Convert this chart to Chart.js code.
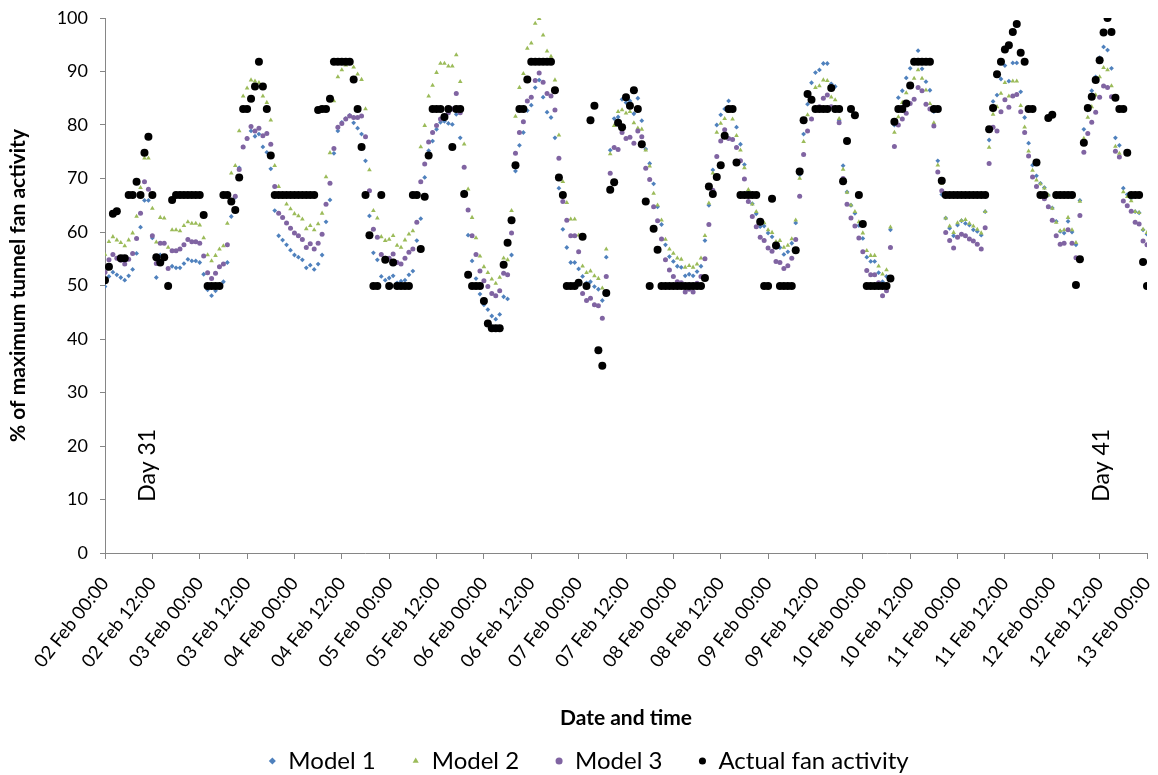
<!DOCTYPE html>
<html>
<head>
<meta charset="utf-8">
<title>Tunnel fan activity</title>
<script src="https://cdn.jsdelivr.net/npm/chart.js@4.4.0/dist/chart.umd.min.js"></script>
<style>
  html, body { margin: 0; padding: 0; background: #fff; }
  #chart { display: block; }
</style>
</head>
<body>
<canvas id="chart" width="1158" height="775"></canvas>
<script>
/* ── data: one value per hour, 02 Feb 00:00 → 13 Feb 00:00 ── */
const xTickLabels = [
  '02 Feb 00:00', '02 Feb 12:00', '03 Feb 00:00', '03 Feb 12:00', '04 Feb 00:00', '04 Feb 12:00',
  '05 Feb 00:00', '05 Feb 12:00', '06 Feb 00:00', '06 Feb 12:00', '07 Feb 00:00', '07 Feb 12:00',
  '08 Feb 00:00', '08 Feb 12:00', '09 Feb 00:00', '09 Feb 12:00', '10 Feb 00:00', '10 Feb 12:00',
  '11 Feb 00:00', '11 Feb 12:00', '12 Feb 00:00', '12 Feb 12:00', '13 Feb 00:00'
];

const model1 = [
  49.8, 51.7, 52.5, 52.0, 51.5, 51.0, 51.8, 53.0, 56.0, 60.9, 65.9, 65.9, 58.9, 51.5, 55.7, 55.5, 50.3, 53.6, 53.3, 53.3, 54.1, 54.9, 54.6, 54.6,
  54.3, 52.1, 49.2, 48.1, 49.0, 49.8, 50.7, 54.3, 62.9, 66.5, 72.0, 75.9, 77.5, 78.9, 77.9, 78.3, 75.9, 74.9, 71.8, 64.0, 59.3, 58.5, 57.6, 56.6,
  55.7, 55.3, 54.8, 53.3, 53.8, 53.0, 54.0, 55.7, 61.9, 66.0, 74.7, 78.9, 80.5, 81.2, 81.8, 80.4, 79.4, 78.3, 73.3, 63.0, 56.1, 54.8, 51.7, 51.0,
  51.4, 51.8, 50.5, 50.8, 51.0, 52.0, 52.7, 58.4, 62.5, 70.2, 75.2, 77.0, 79.2, 80.5, 80.7, 80.3, 80.1, 82.0, 77.6, 67.5, 59.4, 54.6, 51.3, 48.4,
  46.4, 45.5, 44.3, 43.7, 44.6, 47.9, 47.5, 55.7, 71.4, 76.2, 78.6, 82.7, 83.7, 87.0, 88.4, 85.2, 82.4, 81.4, 77.6, 68.2, 60.5, 57.1, 54.3, 54.3,
  53.1, 51.7, 50.5, 50.7, 49.8, 49.3, 47.2, 55.3, 75.3, 81.2, 81.5, 84.8, 84.2, 84.5, 82.1, 85.0, 80.8, 75.5, 72.8, 69.0, 64.7, 61.4, 57.6, 55.4,
  54.5, 53.6, 53.4, 51.8, 52.1, 51.8, 52.6, 53.6, 58.4, 65.0, 71.6, 80.0, 81.9, 83.0, 84.5, 82.8, 79.6, 76.4, 72.6, 67.6, 65.3, 63.4, 61.0, 61.1,
  59.8, 59.1, 57.1, 57.1, 55.8, 56.3, 57.9, 61.7, 70.7, 78.3, 83.9, 87.9, 89.8, 90.3, 91.5, 91.5, 87.7, 87.2, 80.9, 72.4, 67.5, 65.0, 63.5, 61.2,
  58.8, 55.3, 54.5, 54.5, 52.4, 50.7, 51.7, 60.4, 80.0, 85.1, 86.4, 88.8, 90.6, 92.0, 93.9, 90.5, 88.1, 86.5, 82.5, 73.3, 67.0, 62.6, 60.7, 59.3,
  61.3, 62.1, 61.6, 61.3, 60.4, 60.1, 59.4, 63.8, 77.2, 84.4, 85.6, 88.6, 91.1, 88.2, 91.6, 91.6, 86.2, 81.4, 76.6, 72.5, 70.5, 69.1, 68.3, 66.9,
  64.5, 62.0, 60.1, 59.8, 62.0, 60.0, 57.6, 65.9, 79.2, 82.8, 86.4, 89.0, 92.6, 94.6, 94.0, 90.6, 77.6, 76.2, 68.2, 67.0, 66.3, 63.8, 63.6, 60.4,
  59.6
];

const model2 = [
  55.8, 58.2, 59.1, 58.5, 58.0, 57.4, 58.5, 59.8, 62.9, 68.3, 73.8, 73.8, 64.4, 58.1, 62.7, 62.6, 57.1, 60.4, 60.4, 60.2, 61.2, 61.9, 61.6, 61.6,
  61.3, 58.9, 55.7, 54.6, 55.6, 56.8, 57.4, 61.6, 71.0, 72.4, 78.9, 85.4, 86.9, 88.4, 88.2, 87.9, 85.4, 84.2, 80.9, 72.4, 68.5, 66.5, 65.2, 64.3,
  63.4, 63.0, 62.4, 60.6, 61.2, 60.4, 61.5, 63.5, 70.3, 74.8, 84.5, 89.0, 90.3, 91.2, 91.7, 90.8, 89.5, 88.5, 83.0, 71.6, 64.0, 62.6, 59.1, 58.4,
  58.6, 59.3, 57.5, 57.1, 58.5, 59.6, 60.2, 66.5, 75.9, 79.9, 85.4, 87.4, 89.8, 91.5, 91.5, 91.0, 91.0, 93.1, 88.1, 76.4, 68.0, 62.7, 58.9, 55.5,
  53.5, 52.4, 51.2, 50.4, 51.5, 55.1, 54.8, 64.0, 81.6, 87.0, 89.6, 94.3, 95.3, 99.0, 99.9, 96.8, 93.8, 92.8, 88.4, 78.1, 69.4, 65.5, 62.4, 62.4,
  59.4, 53.6, 52.4, 52.7, 51.8, 51.3, 49.5, 56.8, 74.6, 79.9, 82.5, 82.8, 82.2, 82.5, 80.4, 79.4, 79.2, 75.3, 72.3, 67.2, 65.0, 62.2, 58.6, 56.8,
  56.0, 55.1, 54.9, 53.4, 53.7, 53.4, 54.0, 55.1, 59.3, 65.4, 71.0, 78.6, 80.3, 81.2, 82.5, 81.1, 78.0, 75.3, 72.0, 67.9, 65.2, 63.8, 61.6, 61.7,
  60.4, 59.9, 58.2, 58.4, 57.1, 57.5, 58.7, 62.2, 70.0, 76.9, 81.9, 84.4, 87.0, 87.3, 88.4, 88.3, 85.2, 84.7, 81.2, 71.7, 67.4, 65.0, 63.8, 61.9,
  59.8, 56.5, 55.6, 55.6, 53.6, 52.1, 52.9, 60.9, 78.6, 81.5, 84.2, 86.0, 87.5, 88.7, 90.3, 88.7, 86.5, 84.0, 80.4, 72.5, 69.1, 62.6, 61.1, 59.9,
  61.7, 62.1, 62.3, 61.6, 61.1, 60.5, 59.8, 63.8, 75.8, 82.0, 83.4, 85.9, 87.9, 85.4, 88.2, 88.2, 83.6, 79.6, 75.1, 71.5, 69.7, 69.0, 68.2, 66.9,
  64.4, 61.8, 60.2, 60.4, 62.7, 60.4, 58.0, 65.7, 77.5, 81.4, 83.4, 85.6, 89.0, 90.7, 90.3, 87.3, 76.0, 74.7, 67.5, 66.6, 65.8, 63.8, 63.6, 60.5,
  59.9
];

const model3 = [
  52.5, 54.8, 55.8, 55.1, 54.7, 54.0, 54.9, 56.0, 58.8, 63.5, 69.4, 68.0, 59.3, 54.1, 57.9, 57.9, 53.2, 56.5, 56.5, 56.8, 57.6, 58.6, 58.2, 58.2,
  57.9, 55.5, 52.4, 51.3, 52.3, 53.5, 54.0, 57.6, 65.5, 66.7, 71.7, 75.9, 77.5, 79.7, 78.9, 79.4, 78.0, 78.4, 76.4, 68.5, 63.5, 62.7, 61.7, 60.7,
  59.8, 59.3, 58.6, 57.1, 57.8, 56.8, 57.9, 59.6, 65.2, 69.1, 75.6, 79.6, 80.3, 81.1, 81.7, 81.4, 81.4, 81.7, 77.8, 67.7, 60.5, 59.0, 55.8, 55.1,
  55.1, 55.9, 54.3, 54.0, 55.1, 56.2, 56.8, 61.8, 69.4, 72.7, 76.8, 78.6, 79.9, 81.1, 81.6, 82.3, 83.0, 85.9, 82.3, 72.1, 64.1, 59.3, 55.8, 52.7,
  50.9, 49.8, 48.5, 48.1, 49.0, 52.3, 52.0, 59.8, 74.7, 78.6, 80.6, 84.5, 85.2, 88.3, 89.7, 88.0, 85.9, 85.4, 82.8, 73.8, 65.7, 62.2, 59.3, 59.3,
  56.3, 48.5, 47.2, 47.6, 46.4, 46.2, 43.9, 51.7, 71.0, 75.8, 75.4, 78.6, 77.5, 77.7, 76.6, 78.9, 77.8, 71.9, 69.8, 64.7, 62.1, 58.7, 54.8, 52.9,
  51.7, 50.7, 50.5, 48.8, 49.3, 48.8, 50.4, 51.7, 55.0, 61.4, 67.8, 74.1, 77.0, 79.1, 77.5, 77.3, 75.8, 73.3, 69.9, 65.7, 62.9, 61.0, 59.0, 58.4,
  57.0, 56.4, 54.5, 54.3, 53.2, 53.7, 55.1, 58.6, 66.7, 74.5, 78.9, 81.1, 82.8, 83.4, 85.0, 85.6, 83.4, 82.8, 80.4, 70.0, 65.2, 62.6, 61.1, 58.9,
  56.3, 52.8, 52.0, 52.0, 50.5, 48.1, 49.0, 57.1, 76.0, 80.0, 81.1, 82.2, 84.0, 84.8, 87.0, 86.4, 83.9, 83.0, 79.8, 71.2, 67.7, 59.9, 58.4, 57.0,
  59.0, 59.6, 59.3, 58.7, 58.3, 57.7, 56.8, 60.8, 72.8, 79.6, 78.9, 82.5, 84.7, 83.3, 85.4, 85.7, 82.5, 78.6, 74.2, 70.3, 68.5, 66.9, 66.2, 64.7,
  62.2, 59.3, 57.7, 57.9, 60.4, 57.9, 55.2, 63.1, 74.9, 78.4, 80.5, 82.4, 85.2, 87.3, 87.0, 85.3, 75.1, 74.0, 65.8, 64.9, 63.9, 61.8, 61.5, 58.3,
  57.6
];

const actual = [
  51.0, 53.5, 63.4, 63.9, 55.1, 55.1, 66.9, 66.9, 69.4, 66.9, 74.8, 77.8, 66.9, 55.3, 54.3, 55.3, 49.9, 66.0, 66.9, 66.9, 66.9, 66.9, 66.9, 66.9,
  66.9, 63.2, 49.9, 49.9, 49.9, 49.9, 66.9, 66.9, 65.7, 64.1, 70.2, 83.0, 83.0, 84.9, 87.2, 91.8, 87.2, 83.0, 74.3, 66.9, 66.9, 66.9, 66.9, 66.9,
  66.9, 66.9, 66.9, 66.9, 66.9, 66.9, 82.8, 83.0, 83.0, 84.9, 91.8, 91.8, 91.8, 91.8, 91.8, 88.5, 83.0, 75.9, 66.9, 59.4, 49.9, 49.9, 66.9, 54.8,
  49.9, 54.3, 49.9, 49.9, 49.9, 49.9, 66.9, 66.9, 56.8, 66.6, 74.3, 83.0, 83.0, 83.0, 81.5, 83.0, 75.9, 83.0, 83.0, 67.1, 52.0, 49.9, 49.9, 49.9,
  47.1, 42.9, 42.0, 42.0, 42.0, 53.9, 58.0, 62.2, 72.5, 83.0, 83.0, 88.5, 91.8, 91.8, 91.8, 91.8, 91.8, 91.8, 86.5, 70.2, 66.9, 49.9, 49.9, 49.9,
  50.5, 59.1, 49.9, 80.9, 83.6, 37.9, 35.0, 48.6, 67.9, 69.3, 80.4, 79.6, 85.2, 83.6, 86.5, 83.0, 76.4, 65.7, 49.9, 60.6, 56.7, 49.9, 49.9, 49.9,
  49.9, 49.9, 49.9, 49.9, 49.9, 49.9, 49.9, 49.9, 51.4, 68.5, 67.1, 70.3, 72.5, 78.0, 83.0, 83.0, 73.0, 66.9, 66.9, 66.9, 66.9, 66.9, 61.9, 49.9,
  49.9, 66.2, 57.5, 49.9, 49.9, 49.9, 49.9, 56.6, 71.3, 80.9, 85.8, 84.7, 83.0, 83.0, 83.0, 83.0, 86.9, 83.0, 83.0, 69.5, 77.0, 83.0, 81.8, 66.9,
  61.5, 49.9, 49.9, 49.9, 49.9, 49.9, 49.9, 51.3, 80.6, 83.0, 83.0, 84.0, 87.4, 91.8, 91.8, 91.8, 91.8, 91.8, 83.0, 83.0, 69.6, 66.9, 66.9, 66.9,
  66.9, 66.9, 66.9, 66.9, 66.9, 66.9, 66.9, 66.9, 79.2, 83.2, 89.5, 91.8, 94.1, 94.9, 97.4, 98.9, 93.5, 91.8, 83.0, 83.0, 73.0, 66.9, 66.9, 81.3,
  81.9, 66.9, 66.9, 66.9, 66.9, 66.9, 50.1, 54.9, 76.7, 83.2, 85.3, 88.4, 92.1, 97.3, 100.0, 97.4, 85.1, 83.0, 83.0, 74.8, 66.9, 66.9, 66.9, 54.4,
  49.9
];

const dayLabels = ['Day 31', 'Day 41'];

/* ── helpers ── */
const FONT = 'Lato';
const AXIS_GREY = '#868686';

function toPoints(values) {
  return values.map((v, i) => ({ x: i, y: v }));
}

// rotated "Day NN" notes, anchored in data units
const dayNotes = {
  id: 'dayNotes',
  afterDatasetsDraw(chart) {
    const { ctx, scales: { x, y } } = chart;
    const anchorsX = [10.9, 252.4];
    ctx.save();
    ctx.font = `23px ${FONT}`;
    ctx.fillStyle = '#000';
    ctx.textAlign = 'center';
    ctx.textBaseline = 'middle';
    dayLabels.forEach((txt, i) => {
      ctx.save();
      ctx.translate(x.getPixelForValue(anchorsX[i]), y.getPixelForValue(16.4));
      ctx.rotate(-Math.PI / 2);
      ctx.fillText(txt, 0, 0);
      ctx.restore();
    });
    ctx.restore();
  }
};

const ctx = document.getElementById('chart').getContext('2d');

new Chart(ctx, {
  type: 'scatter',
  data: {
    datasets: [
      { label: 'Model 1', data: toPoints(model1), pointStyle: 'rectRot', pointRadius: 2.4,
        backgroundColor: '#4F81BD', borderColor: '#4F81BD', borderWidth: 0, order: 3 },
      { label: 'Model 2', data: toPoints(model2), pointStyle: 'triangle', pointRadius: 2.7,
        backgroundColor: '#9BBB59', borderColor: '#9BBB59', borderWidth: 0, order: 2 },
      { label: 'Model 3', data: toPoints(model3), pointStyle: 'circle', pointRadius: 2.5,
        backgroundColor: '#8064A2', borderColor: '#8064A2', borderWidth: 0, order: 1 },
      { label: 'Actual fan activity', data: toPoints(actual), pointStyle: 'circle', pointRadius: 4,
        backgroundColor: '#000', borderColor: '#000', borderWidth: 0, order: 0 }
    ]
  },
  options: {
    responsive: false,
    devicePixelRatio: 1,
    animation: false,
    layout: { padding: { top: 18, right: 11, bottom: -8, left: 30 } },
    scales: {
      x: {
        type: 'linear', min: 0, max: 264,
        ticks: {
          stepSize: 12, autoSkip: false, minRotation: 52, maxRotation: 52,
          color: '#000', font: { family: FONT, size: 18.5 }, padding: 14,
          callback: v => xTickLabels[Math.round(v / 12)]
        },
        grid: { drawOnChartArea: false, drawTicks: true, tickLength: 6, color: AXIS_GREY },
        border: { color: AXIS_GREY, width: 1 },
        title: { display: true, text: 'Date and time', color: '#000',
                 font: { family: FONT, size: 21, weight: 'bold' }, padding: { top: 0, bottom: -17.6 } },
        afterFit: s => { s.height = 160; s.paddingLeft = 0; s.paddingRight = 0; }
      },
      y: {
        min: 0, max: 100,
        ticks: { stepSize: 10, color: '#000', font: { family: FONT, size: 18 }, padding: 12 },
        grid: { drawOnChartArea: false, drawTicks: true, tickLength: 5, color: AXIS_GREY },
        border: { color: AXIS_GREY, width: 1 },
        title: { display: true, text: '% of maximum tunnel fan activity', color: '#000',
                 font: { family: FONT, size: 21, weight: 'bold' }, padding: { top: -24.6, bottom: 0 } },
        afterFit: s => { s.width = 75; s.paddingTop = 0; s.paddingBottom = 0; }
      }
    },
    plugins: {
      legend: {
        position: 'bottom',
        labels: {
          usePointStyle: true, boxWidth: 8, boxHeight: 5, padding: 36,
          color: '#000', font: { family: FONT, size: 24 },
          sort: (a, b) => a.datasetIndex - b.datasetIndex
        }
      },
      tooltip: { enabled: false }
    }
  },
  plugins: [dayNotes]
});
</script>
</body>
</html>
